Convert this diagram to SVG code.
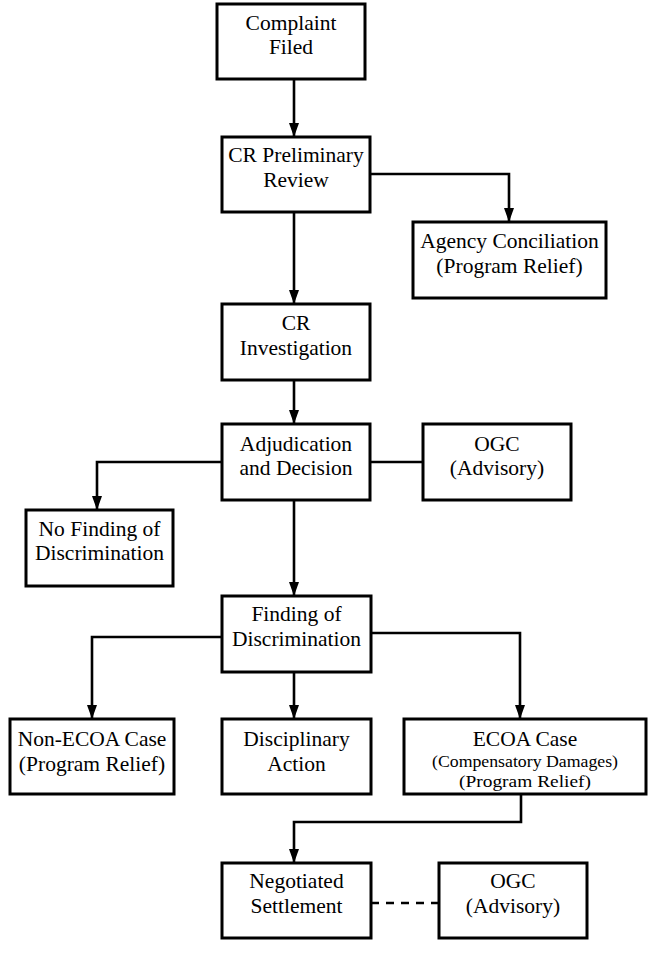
<svg xmlns="http://www.w3.org/2000/svg" width="662" height="964" viewBox="0 0 662 964">
<style>
.box{fill:#fff;stroke:#000;stroke-width:3}
text{font-family:"Liberation Serif","DejaVu Serif","Times New Roman",serif;fill:#000;text-anchor:middle}
.t{font-size:21.5px}
.s{font-size:17.5px}
.c{fill:none;stroke:#000;stroke-width:2.6}
.a{marker-end:url(#arr)}
.d{stroke-dasharray:8 7}
</style>
<defs>
<marker id="arr" viewBox="0 0 14 10" refX="14" refY="5" markerWidth="14" markerHeight="10" markerUnits="userSpaceOnUse" orient="auto">
<path d="M0,0 L14,5 L0,10 z" fill="#000"/>
</marker>
</defs>
<rect width="662" height="964" fill="#fff"/>
<g id="connectors">
<path class="c a" d="M294,79 V137"/>
<path class="c a" d="M370,174 H509 V222"/>
<path class="c a" d="M294,212 V304"/>
<path class="c a" d="M294,380 V424"/>
<path class="c" d="M370,462 H423"/>
<path class="c a" d="M222,462 H97 V510"/>
<path class="c a" d="M294,500 V596"/>
<path class="c a" d="M222,637 H92 V719"/>
<path class="c a" d="M371,633 H520 V719"/>
<path class="c a" d="M294,672 V719"/>
<path class="c a" d="M521,794 V822 H294 V863"/>
<path class="c d" d="M371,903 H439"/>
</g>
<g id="complaint">
<rect class="box" x="217" y="4" width="148" height="75"/>
<text class="t" x="291" y="30" font-family="Liberation Serif, serif">Complaint</text>
<text class="t" x="291" y="54" font-family="Liberation Serif, serif">Filed</text>
</g>
<g id="prelim">
<rect class="box" x="222" y="137" width="148" height="75"/>
<text class="t" x="296" y="162">CR Preliminary</text>
<text class="t" x="296" y="187">Review</text>
</g>
<g id="agency">
<rect class="box" x="413" y="222" width="193" height="76"/>
<text class="t" x="509.5" y="248">Agency Conciliation</text>
<text class="t" x="509.5" y="273">(Program Relief)</text>
</g>
<g id="investigation">
<rect class="box" x="222" y="304" width="148" height="76"/>
<text class="t" x="296" y="330">CR</text>
<text class="t" x="296" y="355">Investigation</text>
</g>
<g id="adjudication">
<rect class="box" x="222" y="424" width="148" height="76"/>
<text class="t" x="296" y="451">Adjudication</text>
<text class="t" x="296" y="475">and Decision</text>
</g>
<g id="ogc1">
<rect class="box" x="423" y="424" width="148" height="76"/>
<text class="t" x="497" y="451">OGC</text>
<text class="t" x="497" y="475">(Advisory)</text>
</g>
<g id="nofinding">
<rect class="box" x="26" y="510" width="147" height="76"/>
<text class="t" x="99.5" y="536">No Finding of</text>
<text class="t" x="99.5" y="560">Discrimination</text>
</g>
<g id="finding">
<rect class="box" x="222" y="596" width="149" height="76"/>
<text class="t" x="296.5" y="621">Finding of</text>
<text class="t" x="296.5" y="646">Discrimination</text>
</g>
<g id="nonecoa">
<rect class="box" x="10" y="719" width="164" height="75"/>
<text class="t" x="92" y="746">Non-ECOA Case</text>
<text class="t" x="92" y="771">(Program Relief)</text>
</g>
<g id="disciplinary">
<rect class="box" x="222" y="719" width="149" height="75"/>
<text class="t" x="296.5" y="746">Disciplinary</text>
<text class="t" x="296.5" y="771">Action</text>
</g>
<g id="ecoa">
<rect class="box" x="404" y="719" width="242" height="75"/>
<text class="t" x="525" y="746">ECOA Case</text>
<text class="s" x="525" y="767" textLength="186" lengthAdjust="spacingAndGlyphs">(Compensatory Damages)</text>
<text class="s" x="525" y="787" textLength="132" lengthAdjust="spacingAndGlyphs">(Program Relief)</text>
</g>
<g id="negotiated">
<rect class="box" x="222" y="863" width="149" height="75"/>
<text class="t" x="296.5" y="888">Negotiated</text>
<text class="t" x="296.5" y="913">Settlement</text>
</g>
<g id="ogc2">
<rect class="box" x="439" y="863" width="148" height="75"/>
<text class="t" x="513" y="888">OGC</text>
<text class="t" x="513" y="913">(Advisory)</text>
</g>
</svg>
